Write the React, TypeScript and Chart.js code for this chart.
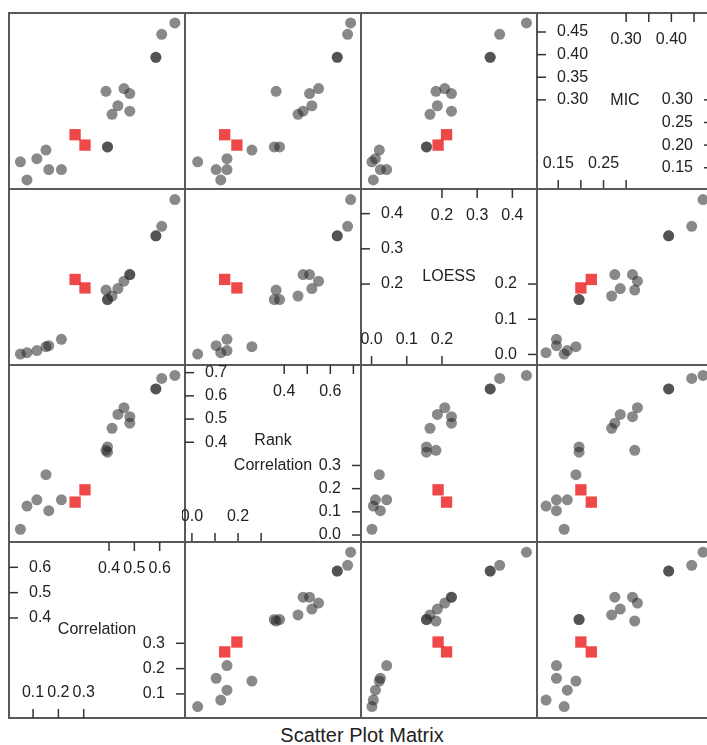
import React, { useEffect, useRef } from 'react';
import { Chart, registerables } from 'chart.js';

Chart.register(...registerables);

// ---- data (4 variables per method; gray = ordinary points, red = highlighted) ----
const varNames: string[][] = [['Correlation'], ['Rank', 'Correlation'], ['LOESS'], ['MIC']];

const corrGray = [0.050, 0.076, 0.115, 0.151, 0.162, 0.212, 0.388, 0.394, 0.394, 0.412, 0.435, 0.459, 0.482, 0.482, 0.585, 0.585, 0.608, 0.660];
const rankGray = [0.025, 0.125, 0.152, 0.260, 0.105, 0.152, 0.365, 0.357, 0.380, 0.460, 0.520, 0.549, 0.482, 0.510, 0.630, 0.630, 0.675, 0.688];
const loessGray = [0.001, 0.005, 0.011, 0.022, 0.025, 0.043, 0.183, 0.156, 0.156, 0.166, 0.187, 0.208, 0.227, 0.227, 0.337, 0.337, 0.364, 0.440];
const micGray = [0.163, 0.123, 0.170, 0.189, 0.146, 0.146, 0.319, 0.196, 0.196, 0.268, 0.287, 0.325, 0.275, 0.314, 0.394, 0.394, 0.445, 0.470];

const corrRed = [0.266, 0.305];
const rankRed = [0.142, 0.195];
const loessRed = [0.213, 0.189];
const micRed = [0.223, 0.200];

// axis ranges per variable
const varMin = [0.005, -0.030, -0.030, 0.103];
const varMax = [0.700, 0.733, 0.470, 0.492];

// diagonal tick values and labels
const hiTicks = [[0.4, 0.5, 0.6], [0.4, 0.5, 0.6, 0.7], [0.2, 0.3, 0.4], [0.30, 0.35, 0.40, 0.45]];
const hiTopLabels = [[0.4, 0.5, 0.6], [0.4, 0.6], [0.2, 0.3, 0.4], [0.30, 0.40]];
const loTicks = [[0.1, 0.2, 0.3], [0.0, 0.1, 0.2, 0.3], [0.0, 0.1, 0.2], [0.15, 0.20, 0.25, 0.30]];
const loBottomLabels = [[0.1, 0.2, 0.3], [0.0, 0.2], [0.0, 0.1, 0.2], [0.15, 0.25]];
const tickDigits = [1, 1, 1, 2];

const grayVals = [corrGray, rankGray, loessGray, micGray];
const redVals = [corrRed, rankRed, loessRed, micRed];

// ---- layout ----
const colEdges = [9, 185, 361, 537, 713];
const rowEdges = [13, 189, 365, 542, 718];
const PAD = 3;
const FONT = '16px "Liberation Sans", Arial, Helvetica, sans-serif';

const framePlugin = {
  id: 'frame',
  afterDraw(chart: any) {
    const { ctx, chartArea: a } = chart;
    ctx.save();
    ctx.strokeStyle = '#595959';
    ctx.lineWidth = 2;
    ctx.strokeRect(a.left, a.top, a.right - a.left, a.bottom - a.top);
    ctx.restore();
  },
};

function makeDiagPlugin(v: number) {
  return {
    id: 'diag',
    afterDraw(chart: any) {
      const { ctx, chartArea: a, scales } = chart;
      const xs = scales.x;
      const ys = scales.y;
      const fmt = (t: number) => t.toFixed(tickDigits[v]);
      const L = 9;
      const line = (x1: number, y1: number, x2: number, y2: number) => {
        ctx.beginPath();
        ctx.moveTo(x1, y1);
        ctx.lineTo(x2, y2);
        ctx.stroke();
      };
      ctx.save();
      ctx.strokeStyle = '#333';
      ctx.lineWidth = 1.5;
      ctx.fillStyle = '#222';
      ctx.font = FONT;
      ctx.textBaseline = 'middle';
      hiTicks[v].forEach((t) => {
        const py = ys.getPixelForValue(t);
        const px = xs.getPixelForValue(t);
        line(a.left, py, a.left + L, py);
        line(px, a.top, px, a.top + L);
        ctx.textAlign = 'left';
        ctx.fillText(fmt(t), a.left + 20, py);
      });
      hiTopLabels[v].forEach((t) => {
        ctx.textAlign = 'center';
        ctx.fillText(fmt(t), xs.getPixelForValue(t), a.top + 27);
      });
      loTicks[v].forEach((t) => {
        const py = ys.getPixelForValue(t);
        const px = xs.getPixelForValue(t);
        line(a.right - L, py, a.right, py);
        line(px, a.bottom - L, px, a.bottom);
        ctx.textAlign = 'right';
        ctx.fillText(fmt(t), a.right - 20, py);
      });
      loBottomLabels[v].forEach((t) => {
        ctx.textAlign = 'center';
        ctx.fillText(fmt(t), xs.getPixelForValue(t), a.bottom - 25);
      });
      const cx = (a.left + a.right) / 2;
      const cy = (a.top + a.bottom) / 2;
      const names = varNames[v];
      ctx.textAlign = 'center';
      names.forEach((n, i) => {
        ctx.fillText(n, cx, cy + (i - (names.length - 1) / 2) * 25);
      });
      ctx.restore();
    },
  };
}

export default function App() {
  const refs = useRef<(HTMLCanvasElement | null)[]>([]);

  useEffect(() => {
    const charts: Chart[] = [];
    for (let r = 0; r < 4; r++) {
      for (let c = 0; c < 4; c++) {
        const canvas = refs.current[r * 4 + c];
        if (!canvas) continue;
        const xv = c;
        const yv = 3 - r;
        const isDiag = xv === yv;
        const datasets: any[] = isDiag
          ? []
          : [
              {
                data: grayVals[xv].map((x, i) => ({ x, y: grayVals[yv][i] })),
                pointStyle: 'circle',
                pointRadius: 5.5,
                pointHoverRadius: 5.5,
                backgroundColor: 'rgba(40,40,40,0.55)',
                borderWidth: 0,
              },
              {
                data: redVals[xv].map((x, i) => ({ x, y: redVals[yv][i] })),
                pointStyle: 'rect',
                pointRadius: 8,
                pointHoverRadius: 8,
                backgroundColor: 'rgba(236,40,40,0.85)',
                borderWidth: 0,
              },
            ];
        const plugins: any[] = [framePlugin];
        if (isDiag) plugins.push(makeDiagPlugin(xv));
        charts.push(
          new Chart(canvas, {
            type: 'scatter',
            data: { datasets },
            options: {
              responsive: false,
              animation: false,
              devicePixelRatio: 1,
              events: [],
              layout: { padding: PAD, autoPadding: false },
              plugins: { legend: { display: false }, tooltip: { enabled: false } },
              scales: {
                x: { type: 'linear', min: varMin[xv], max: varMax[xv], display: false },
                y: { type: 'linear', min: varMin[yv], max: varMax[yv], display: false },
              },
            } as any,
            plugins,
          })
        );
      }
    }
    return () => charts.forEach((ch) => ch.destroy());
  }, []);

  const canvases: React.ReactNode[] = [];
  for (let r = 0; r < 4; r++) {
    for (let c = 0; c < 4; c++) {
      const w = colEdges[c + 1] - colEdges[c] + 2 * PAD;
      const h = rowEdges[r + 1] - rowEdges[r] + 2 * PAD;
      canvases.push(
        <canvas
          key={`${r}-${c}`}
          ref={(el) => {
            refs.current[r * 4 + c] = el;
          }}
          width={w}
          height={h}
          style={{
            position: 'absolute',
            left: colEdges[c] - PAD,
            top: rowEdges[r] - PAD,
            width: w,
            height: h,
          }}
        />
      );
    }
  }

  return (
    <div
      style={{
        position: 'absolute',
        left: 0,
        top: 0,
        width: 707,
        height: 745,
        overflow: 'hidden',
        background: '#fff',
      }}
    >
      {canvases}
      <div
        style={{
          position: 'absolute',
          left: 0,
          width: 724,
          top: 725,
          textAlign: 'center',
          font: '20px "Liberation Sans", Arial, Helvetica, sans-serif',
          lineHeight: '20px',
          color: '#222',
        }}
      >
        Scatter Plot Matrix
      </div>
    </div>
  );
}
